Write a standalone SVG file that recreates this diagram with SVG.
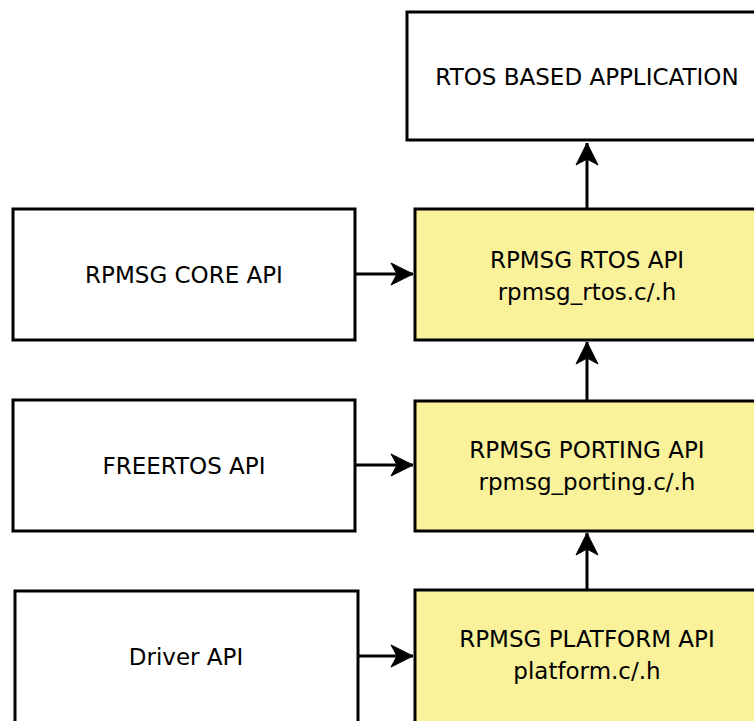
<svg xmlns="http://www.w3.org/2000/svg" width="754" height="721" viewBox="0 0 754 721">
<defs>
<style>
.box{stroke:#000;stroke-width:3;}
.w{fill:#fff;}
.y{fill:#f9f29b;}
.t{font-family:"DejaVu Sans",Verdana,sans-serif;font-size:23px;fill:#000;text-anchor:middle;}
.c{stroke:#000;stroke-width:3;fill:none;}
</style>
<marker id="ah" markerUnits="userSpaceOnUse" markerWidth="26" markerHeight="26" viewBox="0 0 26 26" refX="24" refY="13" orient="auto">
<path d="M2,2 L24,13 L2,24 L8,13 z" fill="#000" stroke="#000" stroke-width="1"/>
</marker>
</defs>
<rect width="754" height="721" fill="#fff"/>
<g id="node-app"><rect class="box w" x="407" y="12" width="360" height="128"/><text class="t" x="587" y="85">RTOS BASED APPLICATION</text></g>
<g id="node-core"><rect class="box w" x="13" y="209" width="342" height="131"/><text class="t" x="184" y="283">RPMSG CORE API</text></g>
<g id="node-rtos"><rect class="box y" x="415" y="209" width="344" height="131"/><text class="t" x="587" y="268">RPMSG RTOS API</text><text class="t" x="587" y="300">rpmsg_rtos.c/.h</text></g>
<g id="node-freertos"><rect class="box w" x="13" y="400" width="342" height="131"/><text class="t" x="184" y="474">FREERTOS API</text></g>
<g id="node-porting"><rect class="box y" x="415" y="401" width="344" height="130"/><text class="t" x="587" y="458">RPMSG PORTING API</text><text class="t" x="587" y="490">rpmsg_porting.c/.h</text></g>
<g id="node-driver"><rect class="box w" x="15" y="591" width="343" height="133"/><text class="t" x="186" y="665">Driver API</text></g>
<g id="node-platform"><rect class="box y" x="415" y="590" width="344" height="134"/><text class="t" x="587" y="647">RPMSG PLATFORM API</text><text class="t" x="587" y="679">platform.c/.h</text></g>
<g id="connectors">
<line class="c" x1="587" y1="208" x2="587" y2="143" marker-end="url(#ah)"/>
<line class="c" x1="587" y1="400" x2="587" y2="342" marker-end="url(#ah)"/>
<line class="c" x1="587" y1="589" x2="587" y2="533" marker-end="url(#ah)"/>
<line class="c" x1="355" y1="274" x2="413" y2="274" marker-end="url(#ah)"/>
<line class="c" x1="355" y1="465" x2="413" y2="465" marker-end="url(#ah)"/>
<line class="c" x1="358" y1="656" x2="413" y2="656" marker-end="url(#ah)"/>
</g>
</svg>
